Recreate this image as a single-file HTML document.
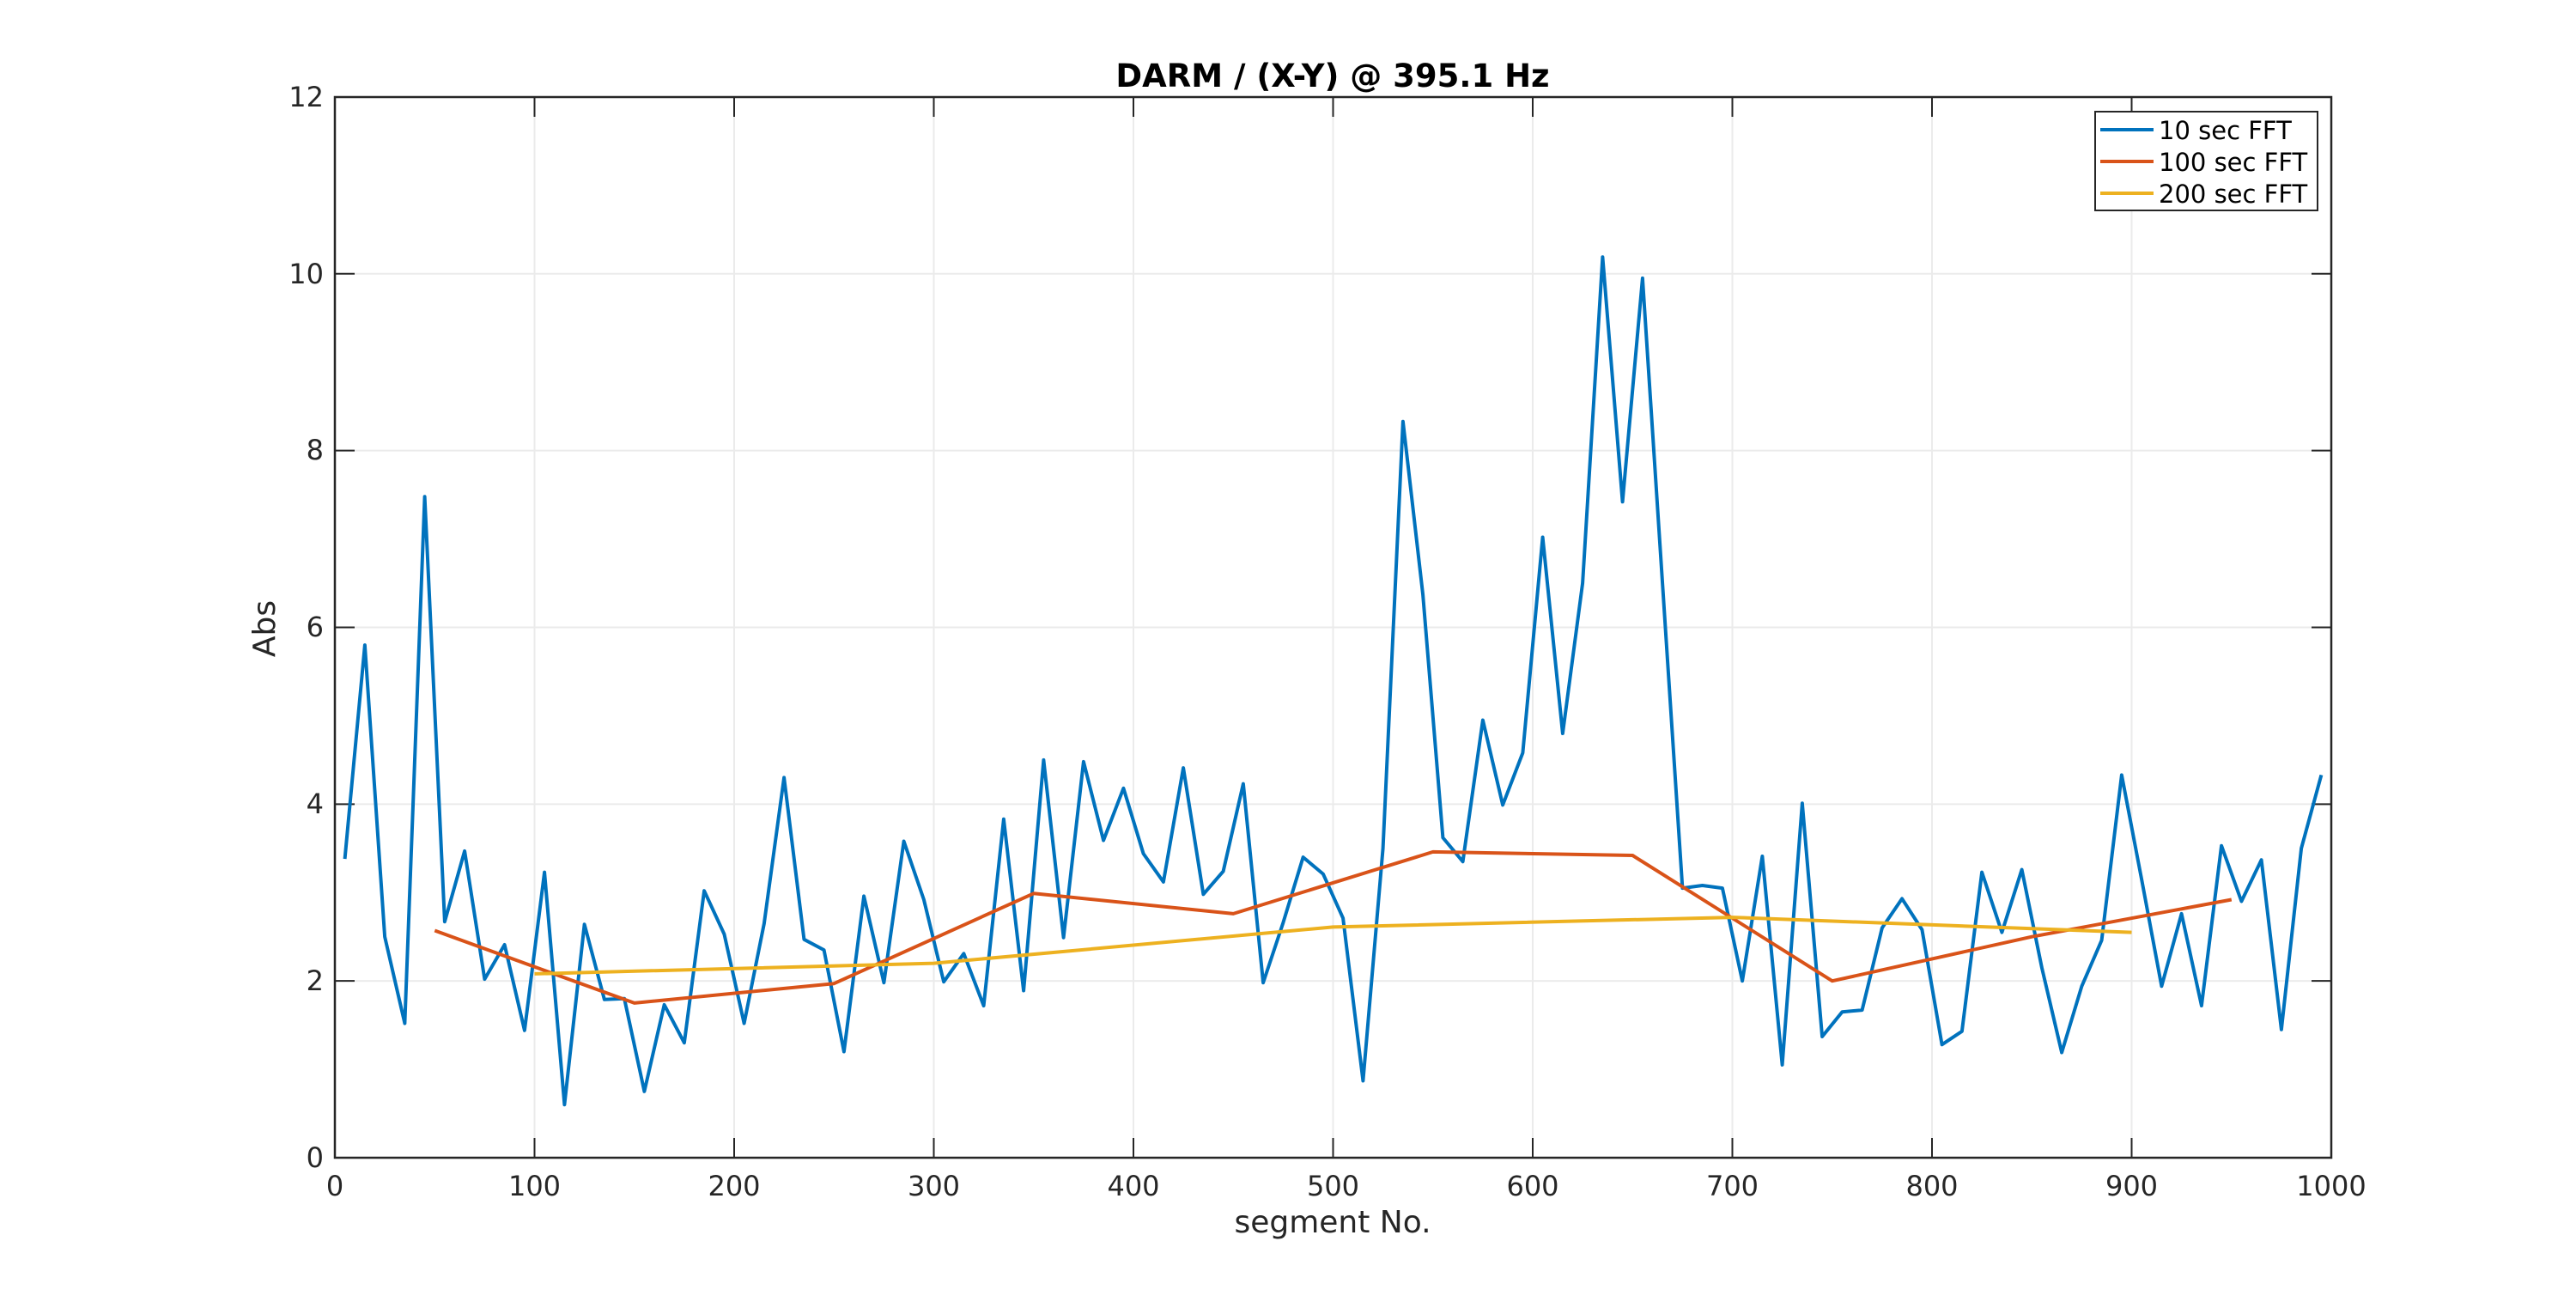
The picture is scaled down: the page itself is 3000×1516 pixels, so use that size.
<!DOCTYPE html>
<html><head><meta charset="utf-8"><style>
html,body{margin:0;padding:0;background:#fff;}
svg{display:block;font-family:"DejaVu Sans","Liberation Sans",sans-serif;}
</style></head><body>
<svg id="s" width="3000" height="1516" viewBox="0 0 3000 1516" xmlns="http://www.w3.org/2000/svg">
<rect width="3000" height="1516" fill="#fff"/>
<g id="grid" stroke="#ebebeb" stroke-width="2"></g>
<g id="ticks" stroke="#262626" stroke-width="2"></g>
<polyline id="b" fill="none" stroke="#0072BD" stroke-width="4" stroke-linejoin="round"/>
<polyline id="o" fill="none" stroke="#D95319" stroke-width="4" stroke-linejoin="round"/>
<polyline id="y" fill="none" stroke="#EDB120" stroke-width="4" stroke-linejoin="round"/>
<rect x="390" y="113" width="2325" height="1235" fill="none" stroke="#262626" stroke-width="2.5"/>
<g font-size="32" fill="#262626" text-anchor="end">
<text x="377" y="1359">0</text><text x="377" y="1153">2</text><text x="377" y="947">4</text>
<text x="377" y="741">6</text><text x="377" y="535">8</text><text x="377" y="330">10</text><text x="377" y="124">12</text>
</g>
<g font-size="32" fill="#262626" text-anchor="middle">
<text x="390" y="1392">0</text><text x="622.5" y="1392">100</text><text x="855" y="1392">200</text>
<text x="1087.5" y="1392">300</text><text x="1320" y="1392">400</text><text x="1552.5" y="1392">500</text>
<text x="1785" y="1392">600</text><text x="2017.5" y="1392">700</text><text x="2250" y="1392">800</text>
<text x="2482.5" y="1392">900</text><text x="2715" y="1392">1000</text>
</g>
<text x="1552" y="1435" font-size="36" fill="#262626" text-anchor="middle">segment No.</text>
<text transform="translate(320,732) rotate(-90)" font-size="36" fill="#262626" text-anchor="middle">Abs</text>
<text x="1552" y="101" font-size="37" font-weight="bold" fill="#000" text-anchor="middle">DARM / (X-Y) @ 395.1 Hz</text>
<rect x="2440" y="130" width="259" height="115" fill="#fff" stroke="#262626" stroke-width="2"/>
<line x1="2446" y1="151" x2="2508" y2="151" stroke="#0072BD" stroke-width="4"/>
<line x1="2446" y1="188" x2="2508" y2="188" stroke="#D95319" stroke-width="4"/>
<line x1="2446" y1="225" x2="2508" y2="225" stroke="#EDB120" stroke-width="4"/>
<g font-size="29" fill="#000">
<text x="2514" y="162">10 sec FFT</text><text x="2514" y="199">100 sec FFT</text><text x="2514" y="236">200 sec FFT</text>
</g>
</svg>
<script>
var X=function(v){return 390+v*2.325},Y=function(v){return 1348-v*102.92};
var ns="http://www.w3.org/2000/svg",g=document.getElementById('grid'),t=document.getElementById('ticks');
function ln(p,a,b,c,d){var l=document.createElementNS(ns,'line');l.setAttribute('x1',a);l.setAttribute('y1',b);l.setAttribute('x2',c);l.setAttribute('y2',d);p.appendChild(l);}
for(var i=1;i<10;i++){var x=X(i*100);ln(g,x,113,x,1348);ln(t,x,1348,x,1325);ln(t,x,113,x,136);}
for(var j=1;j<6;j++){var y=Y(j*2);ln(g,390,y,2715,y);ln(t,390,y,413,y);ln(t,2715,y,2692,y);}
var bv=[3.38,5.8,2.5,1.52,7.48,2.67,3.47,2.02,2.41,1.44,3.23,0.6,2.64,1.79,1.8,0.75,1.73,1.3,3.02,2.53,1.52,2.65,4.3,2.47,2.35,1.2,2.96,1.98,3.58,2.92,1.99,2.31,1.72,3.83,1.89,4.5,2.49,4.48,3.59,4.18,3.44,3.12,4.41,2.98,3.24,4.23,1.98,2.66,3.4,3.21,2.71,0.87,3.5,8.33,6.37,3.62,3.35,4.95,3.99,4.58,7.02,4.8,6.5,10.19,7.42,9.95,6.5,3.05,3.08,3.05,2.0,3.41,1.05,4.01,1.37,1.65,1.67,2.6,2.93,2.58,1.28,1.43,3.23,2.55,3.26,2.15,1.19,1.94,2.46,4.33,3.15,1.94,2.76,1.72,3.53,2.9,3.37,1.45,3.5,4.33];
var ov=[2.57,1.75,1.97,2.99,2.76,3.46,3.42,2.0,2.5,2.92];
var yv=[2.08,2.2,2.61,2.72,2.55];
function pts(arr,x0,dx){return arr.map(function(v,i){return X(x0+i*dx).toFixed(1)+','+Y(v).toFixed(1)}).join(' ');}
document.getElementById('b').setAttribute('points',pts(bv,5,10));
document.getElementById('o').setAttribute('points',pts(ov,50,100));
document.getElementById('y').setAttribute('points',pts(yv,100,200));
</script>
</body></html>
